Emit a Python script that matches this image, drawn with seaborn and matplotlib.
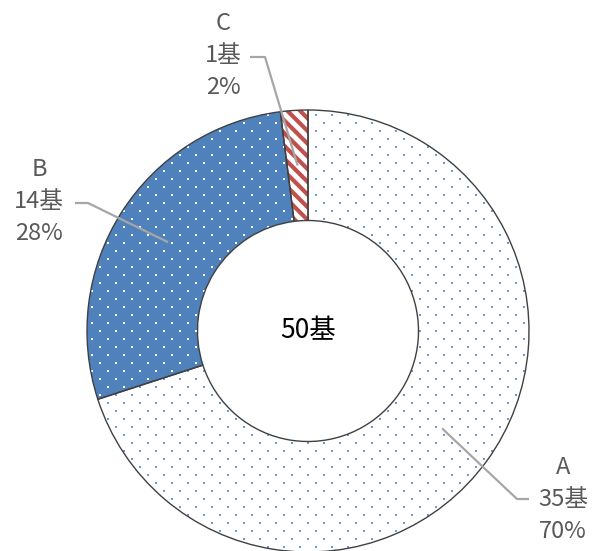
import numpy as np
import matplotlib
matplotlib.use("Agg")
import matplotlib.pyplot as plt
from matplotlib.collections import LineCollection
import seaborn as sns

# Chart data
categories = ["A", "B", "C"]
counts = [35, 14, 1]
unit = "基"
center_label = "50基"

sns.set_theme(style="white")
plt.rcParams["font.family"] = ["Noto Sans CJK JP", "DejaVu Sans"]

W, H = 595, 551
fig = plt.figure(figsize=(W / 100, H / 100), dpi=100)
ax = fig.add_axes([0, 0, 1, 1])

# pixel geometry of the ring
cx, cy, R = 308, 331, 221


def px(x, y):
    """Convert pixel position (origin top-left) to data coordinates."""
    return (x - cx) / R, (cy - y) / R


blue = "#4F81BD"
dot_blue = "#6A9AD6"
red = "#C0504D"
edge = "#404040"
label_gray = "#595959"
leader_gray = "#A6A6A6"

faces = ["white", blue, "white"]
wedges, _ = ax.pie(counts, startangle=90, counterclock=False, radius=1,
                   colors=faces,
                   wedgeprops=dict(width=0.5, edgecolor="none", linewidth=0))

# dotted fill patterns (A: blue dots on white, B: white dots on blue)
step_x, step_y = 16 / R, 8 / R
rows = np.arange(-1.05, 1.05, step_y)
dx_, dy_ = [], []
for i, yy in enumerate(rows):
    off = step_x / 2 if i % 2 else 0.0
    cols = np.arange(-1.05 + off, 1.05, step_x)
    dx_.extend(cols)
    dy_.extend([yy] * len(cols))
dx_, dy_ = np.array(dx_), np.array(dy_)

for w, dc in [(wedges[0], dot_blue), (wedges[1], "white")]:
    sc = ax.scatter(dx_, dy_, s=4.0, c=dc, marker="s", linewidths=0, zorder=2)
    sc.set_clip_path(w)

# diagonal stripes for C
period = 12.7 / R
segs = []
for c in np.arange(-2.2, 2.2, period):
    segs.append([(-1.1, 1.1 + c), (1.1, -1.1 + c)])
lc = LineCollection(segs, colors=red, linewidths=3.0, zorder=2)
ax.add_collection(lc)
lc.set_clip_path(wedges[2])

# outlines on top
ax.pie(counts, startangle=90, counterclock=False, radius=1,
       colors=["none"] * 3,
       wedgeprops=dict(width=0.5, edgecolor=edge, linewidth=1.0, zorder=3))

# data labels with leader lines
total = sum(counts)
cum = np.cumsum(counts)
mid_angles = [np.deg2rad(90 - 360 * (cum[i] - counts[i] / 2) / total)
              for i in range(len(counts))]
text_pos = [(563, 499), (39, 201), (223, 56)]
leader_start = [[(529, 499), (517, 499)],
                [(75, 203), (88, 203)],
                [(250, 57), (265, 57)]]

for i, cat in enumerate(categories):
    pct = round(counts[i] / total * 100)
    tx, ty = px(*text_pos[i])
    ax.text(tx, ty, f"{cat}\n{counts[i]}{unit}\n{pct}%", ha="center", va="center",
            fontsize=17, color=label_gray, linespacing=1.5, zorder=5)
    pts = [px(*p) for p in leader_start[i]]
    a = mid_angles[i]
    pts.append((0.75 * np.cos(a), 0.75 * np.sin(a)))
    xs, ys = zip(*pts)
    ax.plot(xs, ys, color=leader_gray, lw=1.6, zorder=4, solid_capstyle="butt")

ax.text(0, 0, center_label, ha="center", va="center", fontsize=19,
        color="black", zorder=5)

ax.set_xlim(-cx / R, (W - cx) / R)
ax.set_ylim((cy - H) / R, cy / R)
ax.set_aspect("equal")
ax.axis("off")

fig.savefig("out.png", dpi=100, facecolor="white")
